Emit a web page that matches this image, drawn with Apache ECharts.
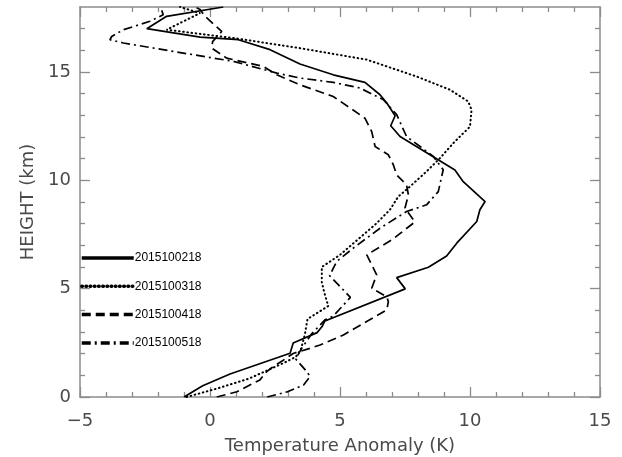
<!DOCTYPE html>
<html>
<head>
<meta charset="utf-8">
<script src="https://cdn.jsdelivr.net/npm/echarts@6/dist/echarts.min.js"></script>
<style>
html,body{margin:0;padding:0;background:#fff;}
#c{width:622px;height:457px;}
</style>
</head>
<body>
<div id="c"></div>
<script>
// ---- data (temperature anomaly K, height km) ----
const names = ['2015100218', '2015100318', '2015100418', '2015100518'];

const h218 = [0, 0.52, 1.06, 2.02, 2.49, 2.97, 3.25, 3.51, 4.99, 5.51, 5.99, 6.51, 7.1, 8.1, 8.64, 9.02, 9.94, 10.48, 11.18, 12.02, 12.52, 12.98, 13.57, 13.95, 14.52, 14.87, 15.37, 16.03, 16.49, 16.61, 17.0, 17.57, 18.0];
const t218 = [-1.0, -0.28, 0.77, 3.08, 3.2, 4.12, 4.31, 4.42, 7.51, 7.18, 8.4, 9.1, 9.49, 10.26, 10.38, 10.58, 9.74, 9.42, 8.46, 7.31, 6.95, 7.12, 6.8, 6.54, 5.96, 4.74, 3.46, 2.31, 1.09, -0.38, -2.43, -1.67, 0.51];

const h318 = [0, 0.4, 0.85, 1.55, 1.85, 2.2, 2.9, 3.6, 4.2, 4.8, 5.3, 6.0, 6.56, 8.02, 8.64, 9.25, 9.71, 10.41, 11.03, 11.72, 12.48, 13.26, 13.64, 14.18, 14.79, 15.57, 16.1, 16.57, 16.95, 17.72, 18.0];
const t318 = [-0.9, 0.3, 1.5, 2.8, 3.3, 3.5, 3.65, 3.75, 4.55, 4.4, 4.3, 4.3, 5.0, 6.41, 6.92, 7.24, 7.69, 8.33, 8.85, 9.36, 10.0, 10.06, 9.93, 9.23, 7.95, 6.03, 3.46, 0.9, -1.67, -0.38, -1.15];

const h418 = [0, 0.24, 0.79, 1.17, 1.4, 1.7, 2.01, 2.25, 2.4, 2.86, 4.02, 4.4, 4.63, 5.02, 5.64, 6.56, 7.25, 8.08, 8.72, 9.33, 9.79, 10.25, 10.72, 11.18, 11.56, 12.25, 12.87, 13.87, 14.41, 14.87, 15.26, 15.64, 16.1, 16.4, 16.87, 17.57, 17.88, 18.0];
const t418 = [0.26, 1.03, 1.92, 2.18, 2.43, 2.82, 3.2, 3.85, 4.23, 5.13, 6.8, 6.86, 6.8, 6.22, 6.41, 6.03, 6.99, 7.88, 7.5, 7.63, 7.56, 7.18, 7.05, 6.86, 6.35, 6.22, 5.96, 4.74, 3.46, 2.57, 2.05, 0.64, 0.07, 0.1, 0.45, -0.19, -0.38, -0.58];

const h518 = [0, 0.25, 0.55, 0.95, 1.2, 1.75, 2.2, 2.9, 3.56, 3.73, 4.6, 5.6, 6.25, 6.87, 7.79, 8.56, 8.87, 9.48, 10.49, 11.1, 11.56, 12.02, 13.03, 13.72, 14.26, 14.52, 14.72, 14.95, 15.49, 15.95, 16.34, 16.49, 16.64, 16.95, 17.34, 17.64, 18.0];
const t518 = [2.2, 3.0, 3.6, 3.85, 3.7, 3.3, 3.5, 3.9, 4.42, 4.74, 5.4, 4.6, 4.87, 5.51, 6.54, 7.56, 8.33, 8.78, 8.97, 8.59, 8.08, 7.56, 7.18, 6.67, 5.77, 4.74, 3.46, 2.57, 0.9, -1.41, -3.33, -3.85, -3.78, -3.33, -2.31, -1.8, -1.9];

const xTicks = [-5, 0, 5, 10, 15];
const xMinor = [-4, -3, -2, -1, 1, 2, 3, 4, 6, 7, 8, 9, 11, 12, 13, 14];
const yTicks = [0, 5, 10, 15];
const yMinor = [1, 2, 3, 4, 6, 7, 8, 9, 11, 12, 13, 14, 16, 17];

// ---- build ----
function pairs(t, h) { return t.map((v, i) => [v, h[i]]); }
const seriesData = [pairs(t218, h218), pairs(t318, h318), pairs(t418, h418), pairs(t518, h518)];
const dashes = ['solid', [0.6, 3.6], [9, 5], [9, 4, 2, 4]];
const caps = ['butt', 'round', 'butt', 'butt'];
const widths = [1.7, 2.0, 1.7, 1.7];

const axisGray = '#8c8c8c';
const labelGray = '#4a4a4a';
const font = 'DejaVu Sans';

function tickAxis(kind, grid, pos, ticks, len, showLine, extra) {
  const a = {
    type: 'value', gridIndex: grid, position: pos,
    axisLine: {show: showLine, onZero: false, lineStyle: {color: axisGray, width: 1.5}},
    axisTick: {show: true, inside: true, length: len, customValues: ticks, lineStyle: {color: axisGray, width: 1.3}},
    axisLabel: {show: false},
    splitLine: {show: true, lineStyle: {color: 'rgba(255,255,255,0)', width: 0}}
  };
  if (kind === 'x') { a.min = -5; a.max = 15; } else { a.min = 0; a.max = 18; }
  return Object.assign(a, extra || {});
}

const gridRect = {left: 80, right: 22, top: 7, bottom: 60, outerBoundsMode: 'none'};

const chart = echarts.init(document.getElementById('c'), null, {renderer: 'canvas'});

chart.setOption({
  animation: false,
  backgroundColor: '#fff',
  grid: [Object.assign({}, gridRect), Object.assign({}, gridRect)],
  xAxis: [
    tickAxis('x', 0, 'bottom', xTicks, 10, true, {
      name: 'Temperature Anomaly (K)', nameLocation: 'middle', nameGap: 40,
      nameTextStyle: {color: labelGray, fontFamily: font, fontSize: 18},
      axisLabel: {show: true, color: labelGray, fontFamily: font, fontSize: 18, margin: 15,
        customValues: xTicks, formatter: v => (v < 0 ? '\u2212' + Math.abs(v) : String(v))}
    }),
    tickAxis('x', 0, 'top', xTicks, 10, true),
    tickAxis('x', 1, 'bottom', xMinor, 5, false),
    tickAxis('x', 1, 'top', xMinor, 5, false)
  ],
  yAxis: [
    tickAxis('y', 0, 'left', yTicks, 10, true, {
      name: 'HEIGHT (km)', nameLocation: 'middle', nameGap: 43, nameRotate: 90,
      nameTextStyle: {color: labelGray, fontFamily: font, fontSize: 18},
      axisLabel: {show: true, color: labelGray, fontFamily: font, fontSize: 18, margin: 9, customValues: yTicks}
    }),
    tickAxis('y', 0, 'right', yTicks, 10, true),
    tickAxis('y', 1, 'left', yMinor, 5, false),
    tickAxis('y', 1, 'right', yMinor, 5, false)
  ],
  legend: {
    orient: 'vertical', left: 80, top: 252, padding: 0,
    itemWidth: 52, itemHeight: 14, itemGap: 16.3,
    data: names,
    textStyle: {color: '#000', fontFamily: 'Liberation Sans', fontSize: 12, padding: [0, 0, 0, -4]},
    lineStyle: {width: 3.5},
    itemStyle: {color: 'rgba(0,0,0,0)', borderWidth: 0, opacity: 0},
    selectedMode: false
  },
  series: names.map((n, i) => ({
    name: n, type: 'line', xAxisIndex: 0, yAxisIndex: 0,
    data: seriesData[i],
    symbol: 'none', showSymbol: false,
    lineStyle: {color: '#000', width: widths[i], type: dashes[i], cap: caps[i]},
    itemStyle: {color: '#000'},
    emphasis: {disabled: true},
    z: 3
  }))
});
</script>
</body>
</html>
